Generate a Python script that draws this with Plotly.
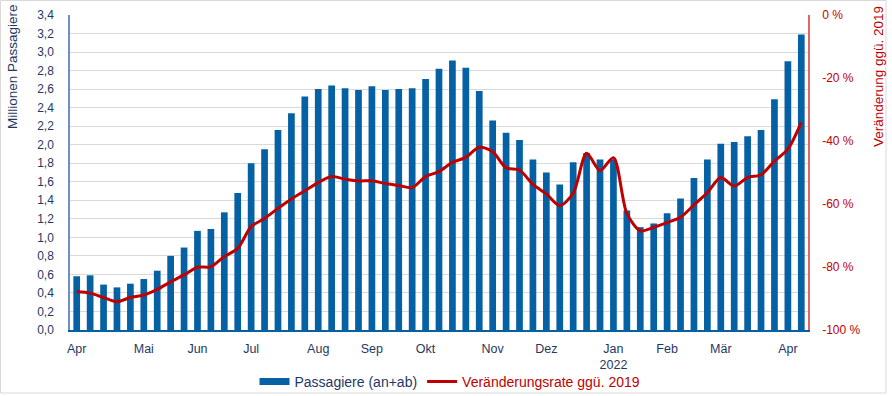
import plotly.graph_objects as go
import pandas as pd

# weekly categories (Apr 2021 - Apr 2022)
weeks = [d.strftime("%Y-%m-%d") for d in pd.date_range("2021-04-02", periods=55, freq="7D")]

# passengers (millions)
passengers = [0.58, 0.59, 0.49, 0.46, 0.50, 0.55, 0.64, 0.80, 0.89, 1.07,
              1.09, 1.27, 1.48, 1.80, 1.95, 2.16, 2.34, 2.52, 2.60, 2.64,
              2.61, 2.59, 2.63, 2.59, 2.60, 2.61, 2.71, 2.82, 2.91, 2.83,
              2.58, 2.26, 2.13, 2.05, 1.84, 1.70, 1.57, 1.81, 1.91, 1.84,
              1.84, 1.29, 1.11, 1.15, 1.26, 1.42, 1.64, 1.84, 2.01, 2.03,
              2.09, 2.16, 2.49, 2.90, 3.19]

# change vs 2019 (%)
change = [-87.8, -88.3, -89.7, -91.0, -89.7, -88.9, -87.1, -84.7, -82.5, -80.1,
          -79.9, -76.7, -74.1, -67.2, -64.6, -61.4, -58.4, -55.8, -53.2, -51.3,
          -52.1, -52.7, -52.6, -53.5, -54.1, -54.8, -51.3, -49.7, -46.8, -45.2,
          -42.0, -43.4, -48.5, -49.2, -53.8, -56.8, -60.5, -56.6, -43.9, -49.4,
          -45.3, -63.0, -68.5, -67.4, -65.9, -64.2, -60.3, -56.4, -51.6, -54.3,
          -51.6, -50.7, -46.4, -42.6, -34.1]

# month tick labels and the week index where they appear
month_labels = ["Apr", "Mai", "Jun", "Jul", "Aug", "Sep", "Okt", "Nov", "Dez",
                "Jan<br>2022", "Feb", "Mär", "Apr"]
month_week_idx = [0, 5, 9, 13, 18, 22, 26, 31, 35, 40, 44, 48, 53]

y_ticks = [round(0.2 * i, 1) for i in range(18)]
y2_ticks = [-100, -80, -60, -40, -20, 0]
y2_labels = ["-100 %", "-80 %", "-60 %", "-40 %", "-20 %", "0 %"]

NAVY = "#1f3864"
RED = "#c00000"
BLUE = "#0561a3"
FONT = "Liberation Sans, Arial, sans-serif"

fig = go.Figure()
fig.add_trace(go.Bar(
    x=weeks, y=passengers, name="Passagiere (an+ab)",
    marker=dict(color=BLUE, line=dict(width=0)),
    yaxis="y", showlegend=False,
))
# legend proxy with a wide rectangular swatch like the original
fig.add_trace(go.Scatter(
    x=[None], y=[None], name="Passagiere (an+ab)", mode="lines",
    line=dict(color=BLUE, width=7), yaxis="y", hoverinfo="skip",
))
fig.add_trace(go.Scatter(
    x=weeks, y=change, name="<span style='color:#c00000'>Veränderungsrate ggü. 2019</span>",
    mode="lines", line=dict(color=RED, width=3, shape="spline", smoothing=0.8),
    yaxis="y2",
))

L, R, T, B = 70, 84, 15, 66
W, H = 892, 396
pw, ph = W - L - R, H - T - B

def px_x(px):
    return (px - L) / pw

def px_y(py):
    return (H - B - py) / ph

fig.update_layout(
    template="none",
    width=W, height=H,
    margin=dict(l=L, r=R, t=T, b=B, pad=0, autoexpand=False),
    paper_bgcolor="white", plot_bgcolor="white",
    font=dict(family=FONT, size=12, color=NAVY),
    separators=",.",
    bargap=0.5,
    showlegend=True,
    legend=dict(orientation="h", x=px_x(450), xanchor="center", y=px_y(382), yanchor="middle",
                font=dict(size=14, color=NAVY), itemwidth=30, tracegroupgap=0,
                bgcolor="rgba(0,0,0,0)"),
    xaxis=dict(
        type="category", categoryorder="array", categoryarray=weeks,
        range=[-0.5, 54.5], automargin=False,
        tickmode="array", tickvals=[weeks[i] for i in month_week_idx], ticktext=month_labels,
        showgrid=False, showline=True, linecolor=BLUE, linewidth=1.5,
        ticks="", tickfont=dict(size=12.5, color=NAVY), ticklabelstandoff=6,
        zeroline=False,
    ),
    yaxis=dict(
        range=[0, 3.4], tickmode="array", tickvals=y_ticks, tickformat=".1f",
        showgrid=True, gridcolor="#d9d9d9", gridwidth=1, automargin=False,
        showline=True, linecolor="#6f8fc4", linewidth=1.5,
        ticks="", tickfont=dict(size=12, color=NAVY), ticklabelstandoff=12,
        zeroline=False,
    ),
    yaxis2=dict(
        range=[-100, 0], overlaying="y", side="right", automargin=False,
        tickmode="array", tickvals=y2_ticks, ticktext=y2_labels,
        showgrid=False, showline=True, linecolor="#e06666", linewidth=1.5,
        ticks="", tickfont=dict(size=12, color=RED), ticklabelstandoff=10,
        zeroline=False,
    ),
    annotations=[
        dict(text="Millionen Passagiere", xref="paper", yref="paper",
             x=px_x(12), y=px_y(67), xanchor="center", yanchor="middle", textangle=-90,
             showarrow=False, font=dict(size=13.5, color=NAVY)),
        dict(text="Veränderung ggü. 2019", xref="paper", yref="paper",
             x=px_x(878), y=px_y(77), xanchor="center", yanchor="middle", textangle=-90,
             showarrow=False, font=dict(size=13.5, color=RED)),
    ],
    shapes=[
        dict(type="rect", xref="paper", yref="paper",
             x0=px_x(0.5), x1=px_x(886), y0=px_y(393), y1=px_y(0.5),
             line=dict(color="#d9d9d9", width=1), fillcolor="rgba(0,0,0,0)", layer="below"),
    ],
)

fig.write_html("out.html", config={"displayModeBar": False},
               post_script="document.body.style.margin='0';document.body.style.padding='0';")
